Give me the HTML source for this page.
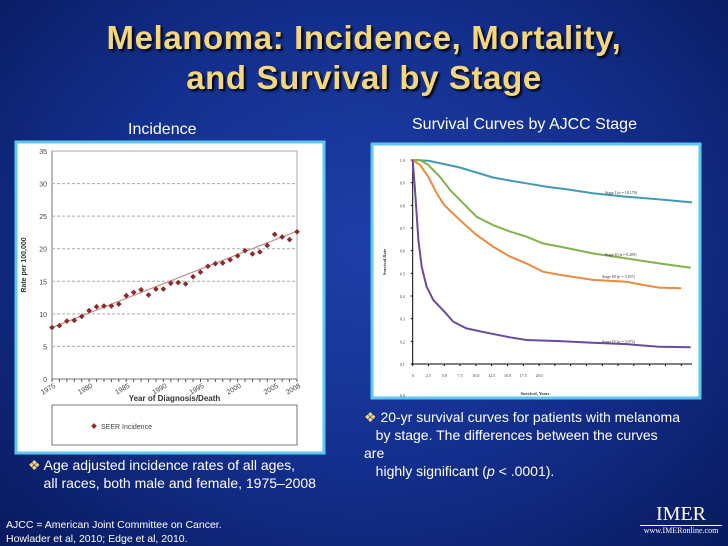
<!DOCTYPE html>
<html><head><meta charset="utf-8"><style>
body{margin:0;width:728px;height:546px;overflow:hidden;font-family:"Liberation Sans",sans-serif;}
#bg{position:absolute;left:0;top:0;width:728px;height:546px;background:radial-gradient(ellipse at 50% 45%,#1e3fa8 0%,#14308f 50%,#081a5e 100%);}
.t{position:absolute;color:#fff;}
</style></head><body>
<div id="bg"></div>
<div class="t" style="left:0;top:18px;width:728px;text-align:center;color:#f4d77c;font-weight:bold;font-size:33px;letter-spacing:0.6px;line-height:40px;text-shadow:2px 2px 2px #000;">Melanoma: Incidence, Mortality,<br>and Survival by Stage</div>
<div class="t" style="left:128px;top:121px;font-size:16px;">Incidence</div>
<div class="t" style="left:412px;top:116px;font-size:16px;">Survival Curves by AJCC Stage</div>
<svg id="c" width="728" height="546" style="position:absolute;left:0;top:0"></svg>
<div class="t" style="left:28px;top:456px;font-size:14px;line-height:18px;"><span style="color:#f4d77c">❖</span> Age adjusted incidence rates of all ages,<br>&nbsp;&nbsp;&nbsp;&nbsp;all races, both male and female, 1975–2008</div>
<div class="t" style="left:364px;top:408px;font-size:14px;line-height:18px;width:350px;"><span style="color:#f4d77c">❖</span> 20-yr survival curves for patients with melanoma<br>&nbsp;&nbsp;&nbsp;by stage. The differences between the curves<br>are<br>&nbsp;&nbsp;&nbsp;highly significant (<i>p</i> &lt; .0001).</div>
<div class="t" style="left:6px;top:518px;font-size:10.5px;line-height:14px;">AJCC = American Joint Committee on Cancer.<br>Howlader et al, 2010; Edge et al, 2010.</div>
<div class="t" style="left:640px;top:503px;width:82px;text-align:center;font-family:'Liberation Serif',serif;"><div style="font-size:20px;border-bottom:1px solid #fff;line-height:22px;">IMER</div><div style="font-size:8px;">www.IMERonline.com</div></div>
<script>
const years=[1975,1976,1977,1978,1979,1980,1981,1982,1983,1984,1985,1986,1987,1988,1989,1990,1991,1992,1993,1994,1995,1996,1997,1998,1999,2000,2001,2002,2003,2004,2005,2006,2007,2008];
const rates=[7.9,8.2,8.9,9.0,9.6,10.5,11.1,11.2,11.2,11.5,12.8,13.3,13.7,12.9,13.8,13.8,14.7,14.8,14.6,15.7,16.4,17.3,17.7,17.8,18.3,18.9,19.7,19.2,19.5,20.5,22.2,21.8,21.4,22.6];
const trendEnds=[7.9,22.7];
const yTicks=[0,5,10,15,20,25,30,35];
const xLabelYears=[1975,1980,1985,1990,1995,2000,2005,2008];
const survTicks=[1.0,0.9,0.8,0.7,0.6,0.5,0.4,0.3,0.2,0.1];
const survXLabels=["0","2.5","5.0","7.5","10.0","12.5","15.0","17.5","20.0"];
const tI=[0,2.47,5,7.47,10.1,12.7,15.4,18,21.2,24.3,28.5,33.8,39,44.2];
const sI=[1,.997,.982,.967,.945,.923,.909,.897,.882,.871,.853,.838,.826,.813];
const tII=[0,1.16,2.47,4.3,5.9,7.47,10.1,12.7,15.4,18,20.6,23.3,25.9,28.5,33.8,39,44];
const sII=[1,1,.978,.926,.868,.824,.75,.713,.684,.662,.632,.618,.603,.588,.566,.544,.525];
const tIII=[0,1.16,2.47,3.8,5,7.47,10.1,12.7,15.4,18,20.6,23.3,28.5,33.8,36.4,39,42.5];
const sIII=[1,.978,.926,.853,.801,.735,.669,.618,.574,.544,.507,.493,.471,.463,.449,.437,.434];
const tIV=[0,0.37,0.9,1.42,2.2,3.26,5,6.4,8.5,11.7,15.4,18,23.3,28.5,33.8,39,44];
const sIV=[1,.868,.647,.529,.441,.382,.331,.287,.257,.238,.218,.206,.201,.194,.188,.176,.174];
const stageLabels=["Stage I (n = 18,170)","Stage II (n = 9,209)","Stage III (n = 3,167)","Stage IV (n = 5,972)"];
const stageColors=["#3f9ab8","#86b04a","#ee8a3c","#6b4aa0"];
const svg=document.getElementById('c');const NS='http://www.w3.org/2000/svg';
function mk(t,a,p){const e=document.createElementNS(NS,t);for(const k in a)e.setAttribute(k,a[k]);(p||svg).appendChild(e);return e;}
let e=mk('rect',{x:16,y:142,width:308,height:311,fill:'#fff',stroke:'#5cc8f0','stroke-width':3});

const X0=52,X1=297,Y0=379,Y1=151;
const xs=y=>X0+(y-1975)/(2008-1975)*(X1-X0);
const ys=v=>Y0-v/35*(Y0-Y1);
mk('line',{x1:X0,y1:Y1,x2:X0,y2:Y0,stroke:'#777'});
mk('line',{x1:X0,y1:Y0,x2:X1,y2:Y0,stroke:'#777'});
mk('line',{x1:X1,y1:Y1,x2:X1,y2:Y0,stroke:'#aaa'});
mk('line',{x1:X0,y1:Y1,x2:X1,y2:Y1,stroke:'#aaa'});
yTicks.forEach(v=>{if(v>0&&v<35){e=mk('line',{x1:X0,y1:ys(v),x2:X1,y2:ys(v),stroke:'#aaa','stroke-dasharray':'3,2'});}
e=mk('text',{x:X0-5,y:ys(v)+3,'text-anchor':'end','font-size':7,fill:'#444'});e.textContent=v;});
years.forEach(y=>mk('line',{x1:xs(y),y1:Y0,x2:xs(y),y2:Y0+3,stroke:'#555'}));
xLabelYears.forEach(y=>{e=mk('text',{x:xs(y)+4,y:Y0+8,'text-anchor':'end','font-size':7,fill:'#444',transform:`rotate(-30 ${xs(y)+4} ${Y0+8})`});e.textContent=y;});
e=mk('text',{x:(X0+X1)/2,y:Y0+22,'text-anchor':'middle','font-size':8,'font-weight':'bold',fill:'#333'});e.textContent='Year of Diagnosis/Death';
e=mk('text',{x:26,y:(Y0+Y1)/2,'text-anchor':'middle','font-size':7,'font-weight':'bold',fill:'#333',transform:`rotate(-90 26 ${(Y0+Y1)/2})`});e.textContent='Rate per 100,000';
e=mk('line',{x1:xs(1975),y1:ys(trendEnds[0]),x2:xs(2008),y2:ys(trendEnds[1]),stroke:'#c98a8a','stroke-width':1.2});
years.forEach((y,i)=>{e=mk('rect',{x:xs(y)-2,y:ys(rates[i])-2,width:4,height:4,fill:'#8b2a2a',transform:`rotate(45 ${xs(y)} ${ys(rates[i])})`});});
e=mk('rect',{x:52,y:405,width:245,height:40,fill:'#fff',stroke:'#777'});
mk('rect',{x:92,y:424,width:4,height:4,fill:'#8b2a2a',transform:'rotate(45 94 426)'});
e=mk('text',{x:101,y:429,'font-size':7,fill:'#444'});e.textContent='SEER Incidence';
e=mk('rect',{x:372,y:144,width:328,height:254,fill:'#fff',stroke:'#5cc8f0','stroke-width':3});
const RX0=412.7,RX1=692,RY0=364,RY1=160,TMAX=44.2;
const rx=t=>RX0+t/TMAX*(RX1-RX0);
const ry=v=>RY0-(v-0.1)/0.9*(RY0-RY1);
mk('line',{x1:RX0,y1:RY1,x2:RX0,y2:RY0,stroke:'#000'});
mk('line',{x1:RX0,y1:RY0,x2:RX1,y2:RY0,stroke:'#000'});
survTicks.forEach(v=>{mk('line',{x1:RX0-2,y1:ry(v),x2:RX0,y2:ry(v),stroke:'#000'});e=mk('text',{x:RX0-8,y:ry(v)+2,'text-anchor':'end','font-size':4,fill:'#333','font-family':'Liberation Serif'});e.textContent=v.toFixed(1);});
e=mk('text',{x:RX0-8,y:397,'text-anchor':'end','font-size':4,fill:'#333','font-family':'Liberation Serif'});e.textContent='0.0';
for(let t=0;t<=TMAX;t+=2.5){mk('line',{x1:rx(t),y1:RY0,x2:rx(t),y2:RY0+2,stroke:'#000'});}
survXLabels.forEach((l,i)=>{e=mk('text',{x:rx(i*2.5),y:RY0+13,'text-anchor':'middle','font-size':4,fill:'#333','font-family':'Liberation Serif'});e.textContent=l;});
e=mk('text',{x:535,y:395,'text-anchor':'middle','font-size':4.5,fill:'#333','font-family':'Liberation Serif','font-weight':'bold'});e.textContent='Survival, Years';
e=mk('text',{x:386,y:262,'text-anchor':'middle','font-size':4.5,fill:'#333','font-family':'Liberation Serif','font-weight':'bold',transform:'rotate(-90 386 262)'});e.textContent='Survival Rate';
const series=[[tI,sI],[tII,sII],[tIII,sIII],[tIV,sIV]];
const names=['stage-i-curve','stage-ii-curve','stage-iii-curve','stage-iv-curve'];
const lblPos=[[605,194],[605,256],[602,278],[602,343]];
series.forEach((s,k)=>{const d=s[0].map((t,i)=>(i?'L':'M')+rx(t).toFixed(1)+','+ry(s[1][i]).toFixed(1)).join('');
e=mk('path',{d:d,fill:'none',stroke:stageColors[k],'stroke-width':2});
e=mk('text',{x:lblPos[k][0],y:lblPos[k][1],'font-size':4,fill:'#333','font-family':'Liberation Serif'});e.textContent=stageLabels[k];});
</script>
</body></html>
